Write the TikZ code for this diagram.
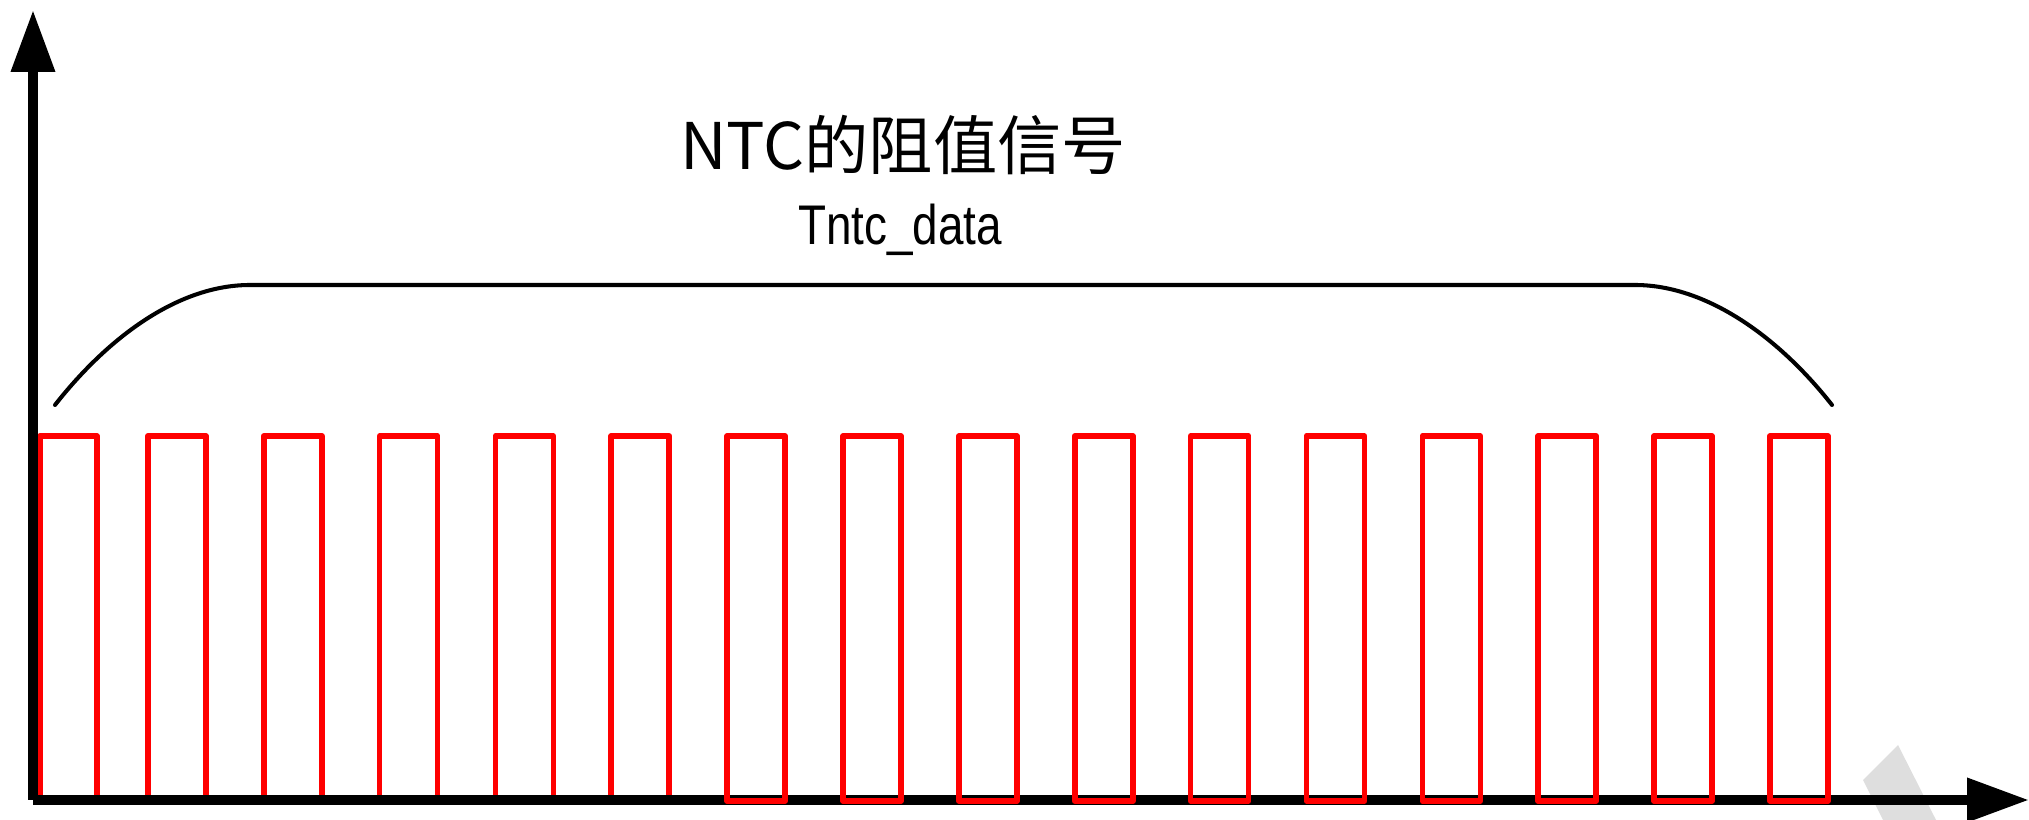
\documentclass[tikz,border=0pt]{standalone}
\usepackage{fontspec}
\setmainfont{Liberation Sans}
\newfontfamily\cjk{Noto Sans CJK SC}
\newfontfamily\narrowsans[FakeStretch=0.82]{Liberation Sans}
\usetikzlibrary{arrows.meta}
\begin{document}
\begin{tikzpicture}[
	axis/.style={line width=2.85pt,-{Triangle[length=0.62cm,width=0.42cm]}},
	pulse/.style={red,line width=1.6pt,line join=round},
	brace/.style={line width=1.15pt,line cap=round}]
	\useasboundingbox (0,0) rectangle (20.29,8.2);
	%水印
	\fill [black!13] (18.63,0.40) -- (18.98,0.75) -- (19.36,0) -- (18.83,0) -- cycle;
	%前六个脉冲(压在坐标轴下)
	\draw [pulse] (0.40,0.25) -- (0.40,3.84) -- (0.97,3.84) -- (0.97,0.25);
	\foreach \i in {1,...,5}
	{
		\draw [pulse] ({0.32+1.1586*\i},0.25) -- ({0.32+1.1586*\i},3.84)
		-- ({0.90+1.1586*\i},3.84) -- ({0.90+1.1586*\i},0.25);
	}
	%坐标轴
	\coordinate (O) at (0.33,0.20);
	\draw [axis] (O) -- (0.33,8.10);
	\draw [axis] (O) -- (20.29,0.20);
	%后十个脉冲
	\foreach \i in {6,...,15}
	{
		\draw [pulse] ({0.32+1.1586*\i},0.19) rectangle ({0.90+1.1586*\i},3.84);
	}
	%括号和文字
	\draw [brace] (0.55,4.15) .. controls (1.1,4.85) and (1.8,5.35) .. (2.50,5.35)
	-- (16.35,5.35) .. controls (17.05,5.35) and (17.77,4.85) .. (18.32,4.15);
	\node (title) [anchor=base] at (9.03,6.50)
	{\cjk\fontsize{18.3}{22}\selectfont NTC的阻值信号};
	\node (data) [anchor=base] at (9.00,5.75)
	{\narrowsans\fontsize{15.9}{19}\selectfont Tntc\_data};
\end{tikzpicture}
\end{document}
